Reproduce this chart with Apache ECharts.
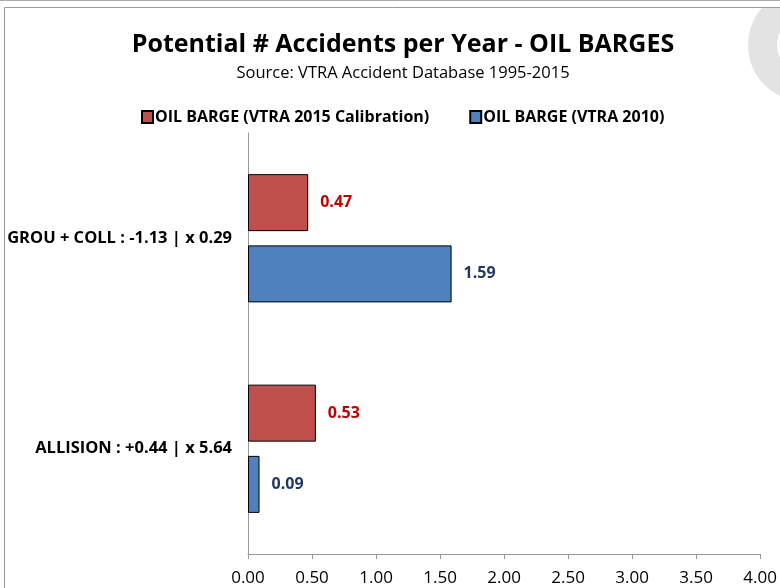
<!DOCTYPE html>
<html><head><meta charset="utf-8">
<script src="https://cdn.jsdelivr.net/npm/echarts@6/dist/echarts.min.js"></script>
<style>html,body{margin:0;padding:0;background:#fff}#c{width:780px;height:588px}</style>
</head><body><div id="c"></div>
<script>
const categories = ['GROU + COLL : -1.13 | x 0.29', 'ALLISION : +0.44 | x 5.64'];
const calib2015 = [0.47, 0.53];
const vtra2010 = [1.59, 0.09];
const seriesNames = ['OIL BARGE (VTRA 2015 Calibration)', 'OIL BARGE (VTRA 2010)'];
const xTicks = [0, 4, 0.5];

const FONT = '"Open Sans", sans-serif';
const chart = echarts.init(document.getElementById('c'), null, {renderer: 'canvas'});
chart.setOption({
  backgroundColor: '#fff',
  animation: false,
  textStyle: {fontFamily: FONT},
  title: {
    text: 'Potential # Accidents per Year - OIL BARGES',
    subtext: 'Source: VTRA Accident Database 1995-2015',
    left: 398, textAlign: 'center', top: 27, itemGap: 8,
    textStyle: {fontFamily: FONT, fontSize: 25, fontWeight: 'bold', color: '#000'},
    subtextStyle: {fontFamily: FONT, fontSize: 16.5, color: '#000'}
  },
  legend: {
    top: 104, left: 136, itemGap: 40, itemWidth: 11, itemHeight: 12,
    icon: 'rect',
    textStyle: {fontFamily: FONT, fontSize: 16, fontWeight: 'bold', color: '#000', padding: [0,0,0,-3]},
    data: seriesNames
  },
  grid: {left: 248, right: 17, top: 133, bottom: 34, containLabel: false},
  xAxis: {
    type: 'value', min: xTicks[0], max: xTicks[1], interval: xTicks[2],
    axisLine: {show: true, lineStyle: {color: '#999', width: 1}},
    axisTick: {show: true, length: 5, lineStyle: {color: '#999'}},
    splitLine: {show: false},
    axisLabel: {fontFamily: FONT, fontSize: 17, color: '#000', margin: 16,
      formatter: v => v.toFixed(2)}
  },
  yAxis: {
    type: 'category', data: categories, inverse: true,
    axisLine: {show: true, lineStyle: {color: '#999'}},
    axisTick: {show: false},
    axisLabel: {fontFamily: FONT, fontSize: 16.5, fontWeight: 'bold', color: '#000', margin: 16}
  },
  series: [
    {name: seriesNames[0], type: 'bar', data: calib2015, barWidth: 57, barGap: '25%',
     itemStyle: {color: '#C0504D', borderColor: '#000', borderWidth: 1},
     label: {show: true, position: 'right', distance: 12, fontFamily: FONT, fontSize: 16, fontWeight: 'bold', color: '#C00000', formatter: p => p.value.toFixed(2)}},
    {name: seriesNames[1], type: 'bar', data: vtra2010, barWidth: 57, barGap: '25%',
     itemStyle: {color: '#4F81BD', borderColor: '#000', borderWidth: 1},
     label: {show: true, position: 'right', distance: 12, fontFamily: FONT, fontSize: 16, fontWeight: 'bold', color: '#1F3864', formatter: p => p.value.toFixed(2)}}
  ],
  graphic: [
    {type: 'ring', shape: {cx: 805, cy: 45, r: 57, r0: 28}, style: {fill: '#e3e3e3'}, silent: true, z: 1},
    {type: 'rect', shape: {x: 0, y: 0, width: 780, height: 7}, style: {fill: '#fff'}, silent: true, z: 2},
    {type: 'line', shape: {x1: 0, y1: 0.5, x2: 780, y2: 0.5}, style: {stroke: '#aaa', lineWidth: 1}, silent: true, z: 3},
    {type: 'polyline', shape: {points: [[4.5, 588], [4.5, 7.5], [780, 7.5]]}, style: {stroke: '#999', lineWidth: 1, fill: null}, silent: true, z: 3}
  ]
});
</script></body></html>
